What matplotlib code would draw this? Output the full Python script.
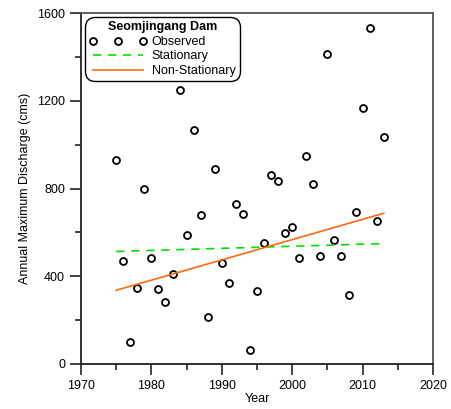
import numpy as np
import matplotlib
matplotlib.use("Agg")
from matplotlib import pyplot as plt
from matplotlib.ticker import MultipleLocator

plt.rcParams["font.family"] = ["Liberation Sans", "DejaVu Sans"]
plt.rcParams["font.size"] = 9

# observed annual maximum discharge
years = np.arange(1975, 2014)
discharge = [930, 470, 102, 345, 800, 481, 342, 281, 412, 1250,
             590, 1066, 681, 214, 889, 462, 370, 730, 686, 66,
             335, 550, 861, 836, 598, 625, 485, 946, 820, 493,
             1414, 566, 491, 316, 695, 1165, 1532, 652, 1035]

# fitted location lines (endpoints)
fit_years = [1975, 2013]
stationary = [513, 549]
non_stationary = [336, 687]

fig = plt.figure(figsize=(4.52, 4.09), dpi=100)
ax = fig.add_axes([81 / 452, 1 - 364 / 409, 352 / 452, 351 / 409])

ax.plot(years, discharge, 'o', ms=5, mfc='white', mec='black', mew=1.3,
        ls='none', label='Observed')
ax.plot(fit_years, stationary, '--', color='#00e000', lw=1.2, dashes=(5, 4),
        label='Stationary')
ax.plot(fit_years, non_stationary, '-', color='#ff6a10', lw=1.2,
        label='Non-Stationary')

ax.set_xlim(1970, 2020)
ax.set_ylim(0, 1600)
ax.xaxis.set_major_locator(MultipleLocator(10))
ax.xaxis.set_minor_locator(MultipleLocator(5))
ax.yaxis.set_major_locator(MultipleLocator(400))
ax.yaxis.set_minor_locator(MultipleLocator(200))
ax.tick_params(which='major', direction='out', length=8, width=1.2, colors='#222222',
               labelcolor='black', labelsize=9)
ax.tick_params(which='minor', direction='out', length=4.5, width=1.2, colors='#222222')
for side in ['left', 'bottom']:
    ax.spines[side].set_linewidth(1.3)
    ax.spines[side].set_color('#222222')
for side in ['top', 'right']:
    ax.spines[side].set_linewidth(1.3)
    ax.spines[side].set_color('#555555')

ax.set_xlabel('Year', labelpad=1)
ax.set_ylabel('Annual Maximum Discharge (cms)', labelpad=4)

leg = ax.legend(loc='upper left', bbox_to_anchor=(4 / 352, 1 - 4 / 351), borderaxespad=0,
                numpoints=3, title='Seomjingang Dam',
                title_fontproperties={'weight': 'bold', 'size': 9},
                fancybox=True, framealpha=1, edgecolor='black', handlelength=4.6,
                handletextpad=0.4, borderpad=0.35, labelspacing=0.2, fontsize=9)
leg.get_frame().set_linewidth(1.0)
leg.get_frame().set_boxstyle('round', pad=0, rounding_size=0.8)

fig.savefig('out.png', dpi=100)
